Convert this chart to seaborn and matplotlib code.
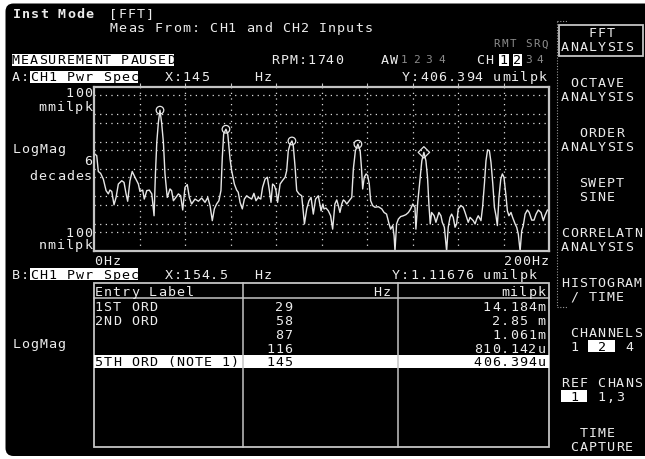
import numpy as np
import matplotlib
matplotlib.use("Agg")
import matplotlib.pyplot as plt
from matplotlib.patches import FancyBboxPatch, Rectangle
from matplotlib.ticker import NullLocator
import seaborn as sns

# trace A (CH1 power spectrum): Hz and log10(milpk)
freq_hz = [0.0, 1.2, 1.9, 2.9, 4.1, 5.3, 6.3, 7.0, 7.8, 8.8, 9.7, 10.7, 12.2, 13.2, 14.1, 14.8,
           15.8, 16.8, 18.0, 19.5, 20.2, 21.4, 22.1, 23.2, 24.3, 25.4, 26.4, 27.0, 27.6, 28.3,
           29.0, 29.7, 30.5, 31.2, 32.2, 33.4, 34.1, 34.9, 36.0, 37.1, 38.1, 39.0, 40.0, 41.0,
           41.9, 42.9, 44.4, 45.9, 47.3, 48.8,
           50.0, 51.0, 52.0, 52.9, 53.9, 54.9, 55.8, 56.4, 57.0, 58.0, 58.8, 59.8, 60.5, 61.7,
           62.7, 63.4, 64.2, 65.2, 66.1, 67.1, 68.1, 69.3, 70.3, 71.2, 72.2, 73.3, 74.1, 75.2,
           76.2, 77.1, 77.8, 78.5, 79.3, 80.0, 80.7, 81.8, 82.8, 84.0, 84.7, 85.4, 86.2, 87.0,
           87.6, 88.4, 89.1, 90.1, 91.3, 92.5, 93.5, 94.5, 95.4, 96.4, 97.4, 98.6, 99.8,
           100.6, 101.1, 102.0, 103.0, 104.0, 104.9, 105.9, 106.7, 107.4, 108.1, 108.9, 109.6,
           110.3, 111.1, 112.2, 113.3, 114.0, 114.9, 116.0, 117.0, 117.6, 118.1, 118.8, 119.6,
           120.3, 121.0, 121.6, 122.5, 123.5, 125.0, 126.5, 127.5, 128.6, 129.7, 130.4, 131.3,
           131.9, 132.3, 133.0, 133.8, 134.8, 136.0, 137.1, 138.2, 139.2, 140.1, 141.1, 141.5,
           142.3, 143.4, 144.1, 145.0, 145.9, 146.6, 147.2, 147.8, 148.4, 149.5, 150.3, 151.0,
           151.6, 152.5, 153.1, 154.0, 155.0, 155.7, 156.5, 157.2, 157.9, 158.7, 159.4, 160.1,
           161.3, 162.3, 163.1, 163.8, 164.5, 165.3, 166.0, 166.7, 167.5, 168.2, 168.9, 170.1,
           170.8, 171.6, 172.3, 173.0, 173.8, 174.5, 175.3, 176.0, 176.7, 177.3, 178.0, 178.8,
           179.5, 180.2, 181.0, 181.7, 182.4, 183.3, 184.0, 185.1, 185.8, 186.5, 187.3, 188.0,
           188.7, 189.5, 190.5, 191.3, 192.4, 193.4, 194.3, 195.3, 196.5, 197.5, 198.2, 199.3,
           200.0]
mag_decades = [-3.43, -3.51, -4.09, -4.16, -4.37, -4.79, -4.91, -4.77, -4.82, -5.31, -5.04, -4.55,
               -4.43, -4.49, -4.91, -5.18, -4.43, -4.09, -4.30, -4.55, -4.82, -4.77, -5.10, -4.79,
               -4.77, -4.91, -5.71, -4.18, -3.02, -2.29, -1.848, -2.29, -3.02, -4.18, -5.04, -4.73,
               -4.79, -5.16, -5.04, -4.91, -4.98, -5.50, -4.67, -4.57, -5.04, -5.28, -5.10, -5.18,
               -5.06, -5.22,
               -5.04, -5.34, -5.89, -5.46, -5.28, -5.16, -4.79, -3.57, -2.72, -2.545, -2.72, -3.63,
               -4.06, -4.55, -4.77, -4.85, -5.22, -5.46, -5.10, -4.98, -5.04, -5.10, -4.89, -5.16,
               -5.04, -5.10, -4.67, -4.37, -4.30, -4.79, -5.22, -4.55, -4.61, -4.79, -5.22, -4.55,
               -4.43, -4.30, -4.06, -3.33, -3.09, -2.974, -3.15, -3.94, -4.79, -4.91, -4.98, -6.01,
               -5.46, -5.16, -5.04, -5.65, -5.10, -4.98, -5.53,
               -5.28, -5.46, -5.43, -5.53, -5.71, -6.20, -5.28, -5.13, -5.34, -5.59, -5.28, -5.13,
               -5.18, -5.28, -5.16, -5.04, -4.00, -3.33, -3.091, -3.33, -4.00, -4.73, -4.30, -4.18,
               -4.24, -4.55, -5.16, -5.34, -5.40, -5.38, -5.46, -5.59, -5.65, -6.01, -6.20, -6.07,
               -6.44, -7.0, -6.01, -5.83, -5.74, -5.71, -5.67, -5.59, -5.46, -5.28, -5.40, -6.20,
               -5.22, -4.30, -3.70, -3.391, -3.70, -4.30, -5.28, -6.01, -5.59, -5.71, -5.95, -5.75,
               -5.59, -5.71, -5.95, -6.13, -7.0, -6.13, -5.77, -5.65, -5.77, -6.13, -6.01, -5.46,
               -5.34, -5.40, -5.59, -5.77, -5.95, -5.77, -5.83, -5.89, -6.01, -5.83, -5.71, -5.89,
               -5.40, -4.55, -3.70, -3.30, -3.33, -3.76, -4.55, -5.40, -5.71, -6.07, -5.04, -4.37,
               -4.18, -4.30, -4.91, -5.53, -5.71, -5.59, -5.77, -6.01, -6.13, -6.38, -7.0, -6.26,
               -6.07, -5.65, -5.50, -5.59, -5.87, -5.87, -5.65, -5.50, -5.59, -5.89, -5.71, -5.50,
               -5.53]

# order table
order_hz = [29, 58, 87, 116, 145]
order_milpk = [14.184e-3, 2.85e-3, 1.061e-3, 810.142e-6, 406.394e-6]
order_hz_text = ["29", "58", "87", "116", "145"]
order_val_text = ["14.184m", "2.85 m", "1.061m", "810.142u", "406.394u"]
order_labels = ["1ST ORD", "2ND ORD", "", "", "5TH ORD (NOTE 1)"]

# softkey menu
menu_keys = [("   FFT", "ANALYSIS"), (" OCTAVE", "ANALYSIS"), ("  ORDER", "ANALYSIS"),
             ("  SWEPT", "  SINE"), ("CORRELATN", "ANALYSIS"), ("HISTOGRAM", " / TIME"),
             (" CHANNELS", " 1  2  4"), ("REF CHANS", " 1  1,3"), ("  TIME", " CAPTURE")]

plt.rcParams['font.family'] = 'DejaVu Sans Mono'
FS = 9.6          # glyph size (pt)
CW = 9.1          # character cell of the screen font (px)
GW = 7.0          # glyph width inside a cell (px)
CAP = 0.729 * FS * 100 / 72
W = '#ececec'
DIM = '#8c8c8c'
LN = '#c4c4c4'

fig = plt.figure(figsize=(6.45, 4.59), dpi=100, facecolor='white')
bg = fig.add_axes([0, 0, 1, 1])
bg.set_xlim(0, 645)
bg.set_ylim(459, 0)
bg.axis('off')
bg.add_patch(FancyBboxPatch((5.5, 3.5), 700, 452.5, boxstyle="round,pad=0,rounding_size=8",
                            fc='black', ec='none'))


def gt(x, y, s, color=W, align='left', cw=CW, size=FS, weight='normal'):
    # screen text: one glyph per fixed character cell
    if align == 'right':
        x = x - (len(s) - 1) * cw - GW
    cap = 0.729 * size * 100 / 72
    for i, ch in enumerate(s):
        if ch != ' ':
            bg.text(x + i * cw + GW / 2, y + cap / 2, ch, color=color, ha='center',
                    va='baseline', fontsize=size, fontweight=weight)


def box(x0, x1, y0, y1):
    bg.add_patch(Rectangle((x0, y0), x1 - x0, y1 - y0, fc='white', ec='none'))


# header
gt(13, 13, "Inst Mode", weight='bold')
gt(110, 13, "[FFT]")
gt(110, 27, "Meas From: CH1 and CH2 Inputs")
gt(548, 43.5, "RMT SRQ", color=DIM, align='right', cw=8, size=7.8)
box(11.7, 174, 53.5, 65.5)
gt(12.5, 59.5, "MEASUREMENT PAUSED", color='black')
gt(271.7, 59.5, "RPM:1740")
gt(381.7, 59.5, "AW")
for cx, d in zip([404, 416.5, 428.5, 442], "1234"):
    bg.text(cx, 59.5 + 3.8, d, color=DIM, ha='center', va='baseline', fontsize=8)
gt(477, 59.5, "CH")
box(499, 508.7, 53.5, 65.5)
box(512.5, 522, 53.5, 65.5)
bg.text(503.8, 59.5 + CAP / 2, "1", color='black', ha='center', va='baseline', fontsize=FS)
bg.text(517.2, 59.5 + CAP / 2, "2", color='black', ha='center', va='baseline', fontsize=FS)
bg.text(529, 59.5 + 3.8, "3", color=DIM, ha='center', va='baseline', fontsize=8)
bg.text(540, 59.5 + 3.8, "4", color=DIM, ha='center', va='baseline', fontsize=8)

# trace A header and axis labels
gt(12, 76.5, "A:")
box(30, 138, 70.5, 82.5)
gt(31, 76.5, "CH1 Pwr Spec", color='black')
gt(165, 76.5, "X:145")
gt(255, 76.5, "Hz")
gt(546, 76.5, "Y:406.394 umilpk", align='right')
gt(91.5, 92.5, "100", align='right')
gt(91.5, 106, "mmilpk", align='right')
gt(12.7, 148, "LogMag")
gt(91.5, 160, "6", align='right')
gt(91.5, 175, "decades", align='right')
gt(91.5, 231.7, "100", align='right')
gt(91.5, 244, "nmilpk", align='right')
gt(95, 260, "0Hz")
gt(548, 260, "200Hz", align='right')

# trace A plot
ax = fig.add_axes([94 / 645, 1 - 251 / 459, 455 / 645, 164 / 459])
ax.set_facecolor('black')
amp = 10 ** np.array(mag_decades)
sns.lineplot(x=freq_hz, y=amp, ax=ax, color='#e6e6e6', linewidth=1.0)
sns.scatterplot(x=order_hz[:4], y=order_milpk[:4], ax=ax, marker='o', s=30,
                facecolor='none', edgecolor='#e6e6e6', linewidth=0.9, zorder=5)
sns.scatterplot(x=order_hz[4:], y=order_milpk[4:], ax=ax, marker='D', s=34,
                facecolor='none', edgecolor='#e6e6e6', linewidth=0.9, zorder=5)
ax.set_yscale('log')
ax.set_xlim(0, 200)
ax.set_ylim(1e-7, 1e-1)
ax.set_xticks(range(20, 200, 20))
ax.set_yticks([5e-2, 1e-2, 5e-3, 1e-3, 5e-4, 1e-4, 5e-5, 1e-5, 5e-6, 1e-6, 5e-7])
ax.yaxis.set_minor_locator(NullLocator())
ax.set_xticklabels([])
ax.set_yticklabels([])
ax.tick_params(axis='x', top=True, bottom=False, direction='out', length=3, color=LN)
ax.tick_params(axis='y', length=0)
ax.grid(True, color='#dcdcdc', linestyle=(0, (1, 3.5)), linewidth=0.9)
ax.set_xlabel('')
ax.set_ylabel('')
for sp in ax.spines.values():
    sp.set_color(LN)
    sp.set_linewidth(1.6)

# trace B: order table
gt(12, 274, "B:")
box(30, 138, 268, 280)
gt(31, 274, "CH1 Pwr Spec", color='black')
gt(165, 274, "X:154.5")
gt(255, 274, "Hz")
gt(536, 274, "Y:1.11676 umilpk", align='right')
gt(12.7, 343, "LogMag")

bg.add_patch(Rectangle((94, 283), 455, 164, fc='none', ec=LN, lw=1.3))
bg.plot([94, 549], [298, 298], color=LN, lw=1.1)
bg.plot([243, 243], [283, 447], color=LN, lw=1.1)
bg.plot([398, 398], [283, 447], color=LN, lw=1.1)
gt(95, 291, "Entry Label")
gt(390, 291, "Hz", align='right')
gt(545, 291, "milpk", align='right')
row_y = [306, 320, 333.8, 347.7, 361.6]
for i, (lab, hz, val) in enumerate(zip(order_labels, order_hz_text, order_val_text)):
    c = W
    if i == len(row_y) - 1:
        box(94, 549, 355, 368.3)
        c = 'black'
    gt(95, row_y[i], lab, color=c)
    gt(292, row_y[i], hz, color=c, align='right')
    gt(545, row_y[i], val, color=c, align='right')

# softkeys
bg.plot([557, 557], [20.7, 306.7], color='#9a9a9a', lw=0.8, ls=(0, (1, 1.5)))
bg.plot([557, 567], [20.7, 20.7], color='#9a9a9a', lw=0.8, ls=(0, (1, 1.5)))
bg.plot([557, 567], [306.7, 306.7], color='#9a9a9a', lw=0.8, ls=(0, (1, 1.5)))
bg.add_patch(Rectangle((559, 25), 84, 30.5, fc='none', ec=LN, lw=1.3))
box(588, 615, 339.5, 351.5)
box(560.7, 586.7, 389.5, 401.5)
for k, (l1, l2) in enumerate(menu_keys):
    y1 = 32.5 + 50 * k
    y2 = y1 + 13.5
    gt(561.7, y1, l1)
    if k == 6:
        gt(561.7, y2, " 1     4")
        gt(561.7, y2, "    2", color='black')
    elif k == 7:
        gt(561.7, y2, "    1,3")
        gt(561.7, y2, " 1", color='black')
    else:
        gt(561.7, y2, l2)

fig.savefig("out.png", dpi=100, facecolor='white')
